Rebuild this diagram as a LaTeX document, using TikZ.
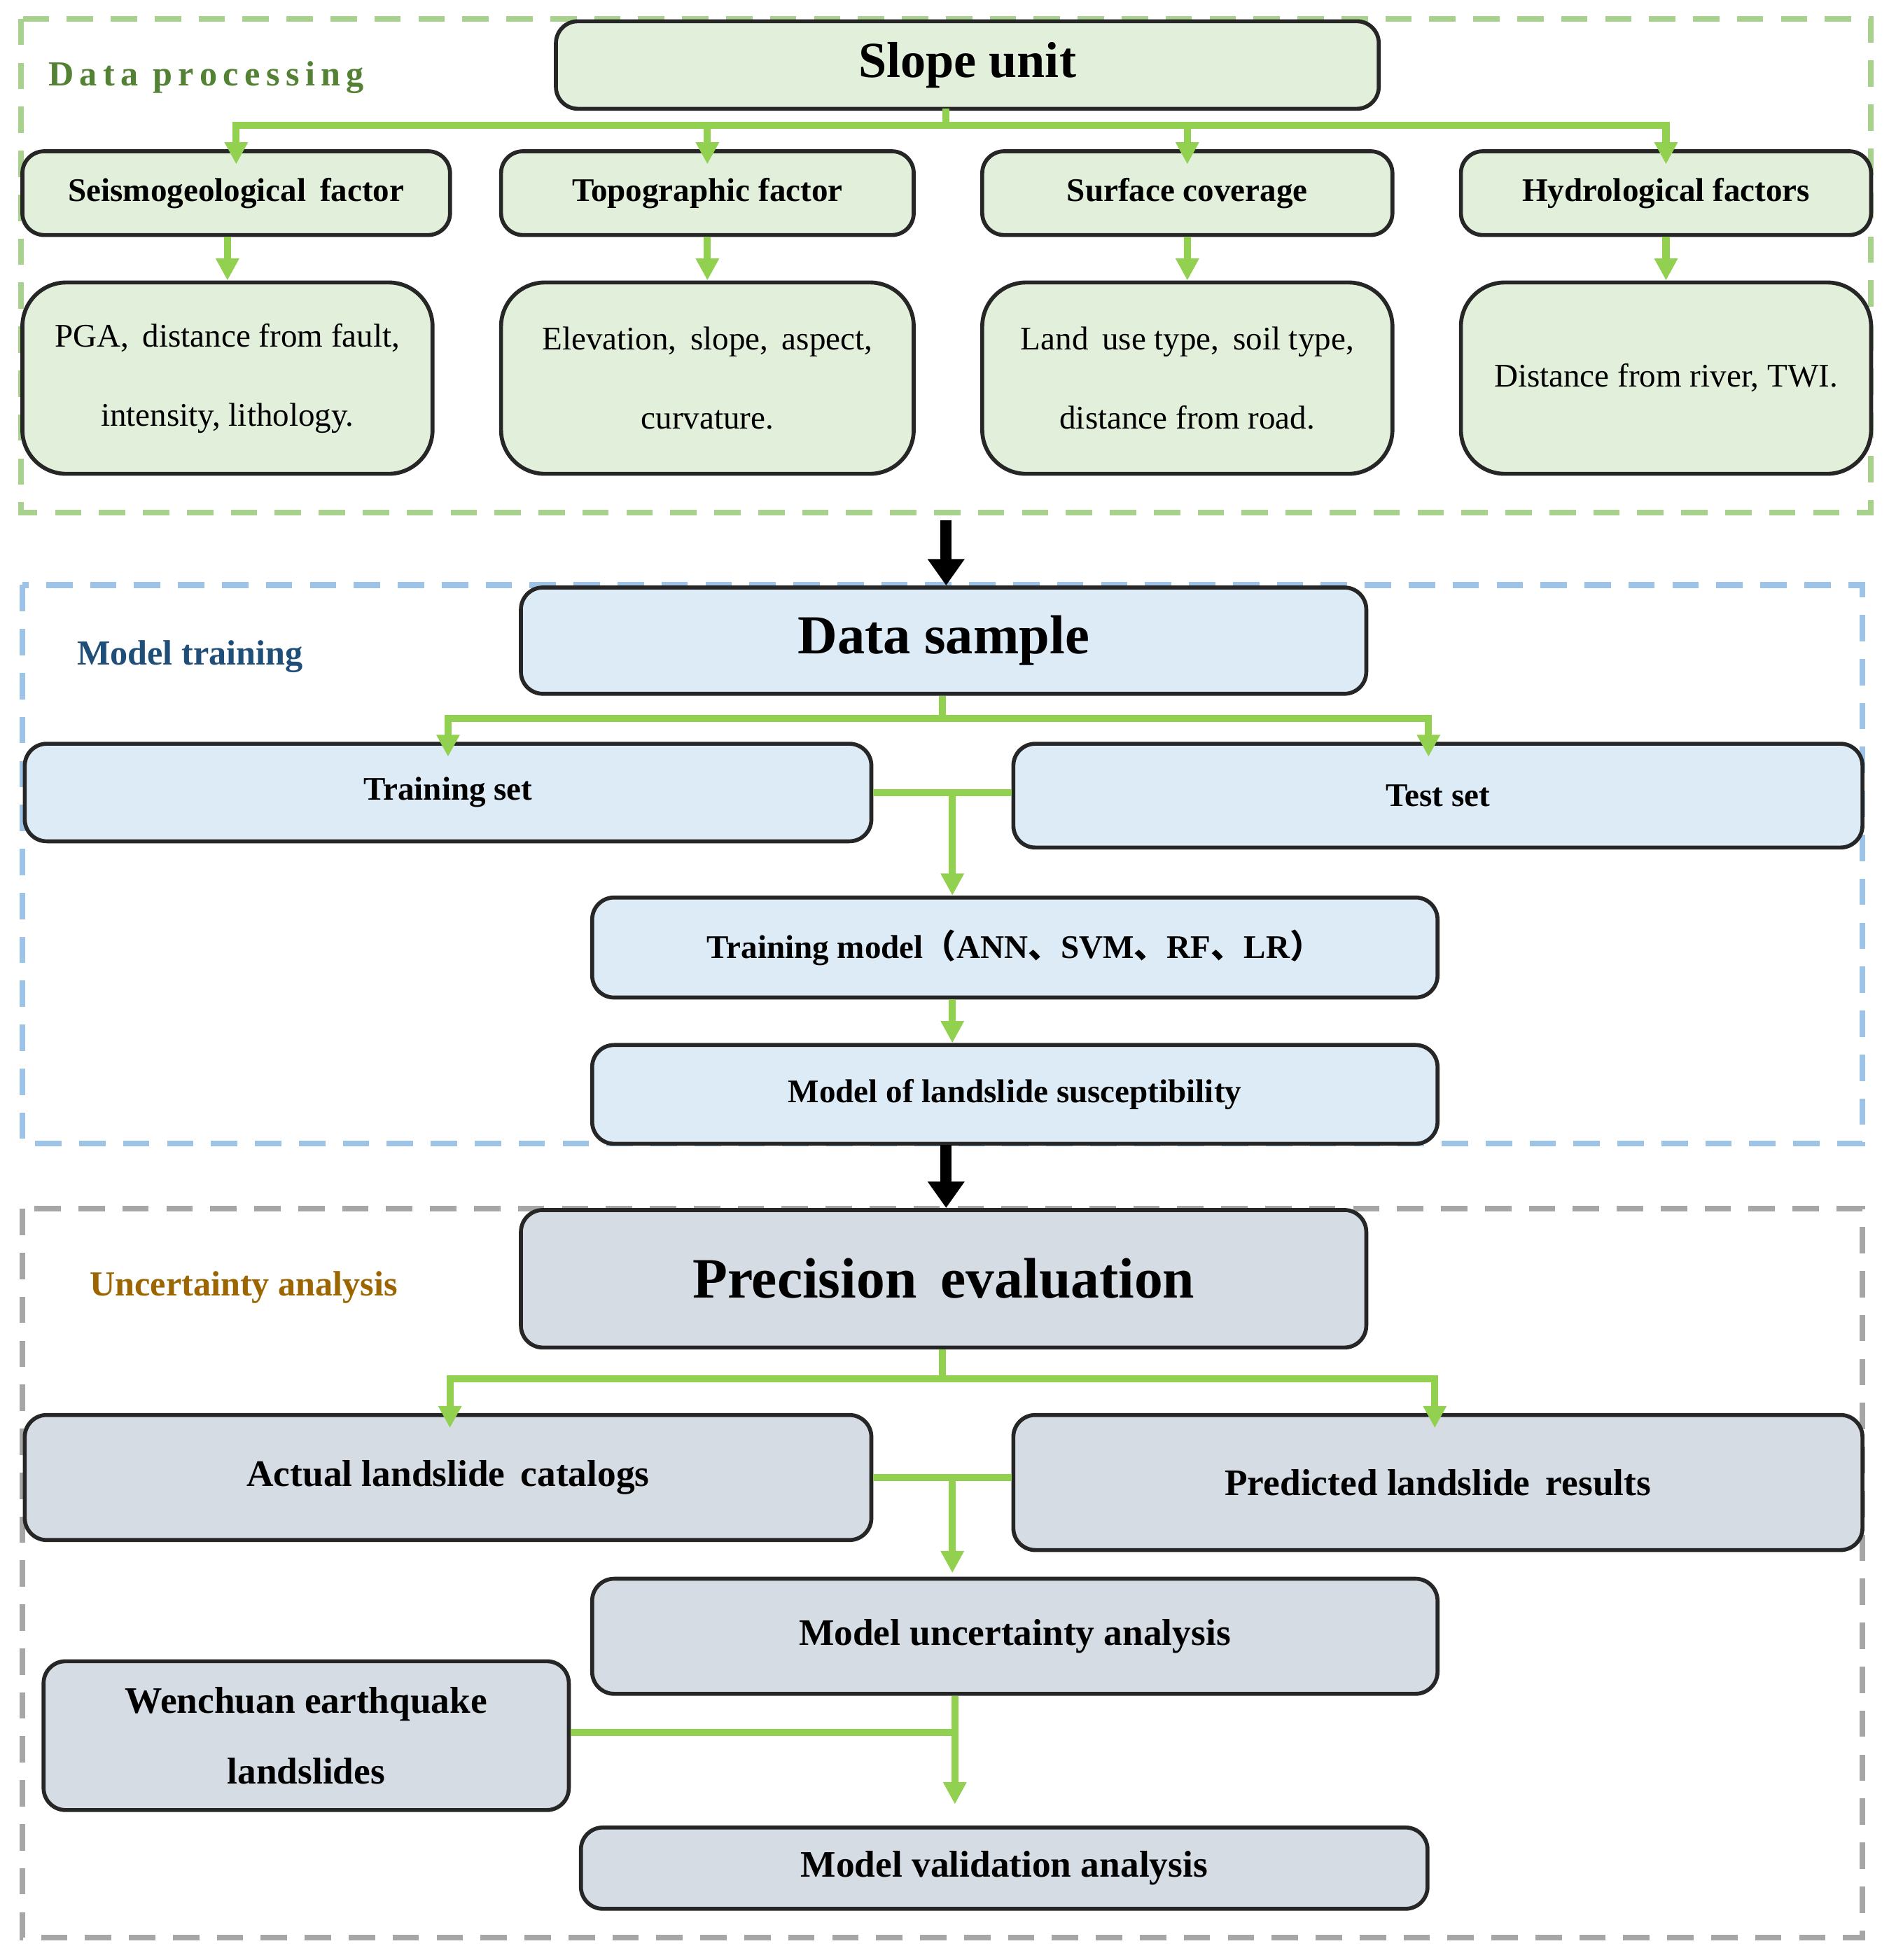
\documentclass[tikz,border=0pt]{standalone}
\usepackage{fontspec}
\setmainfont{Liberation Serif}
\newfontfamily\cjk{Noto Sans CJK SC}
\usetikzlibrary{arrows.meta}
\definecolor{gfill}{HTML}{E2EFDA}
\definecolor{bfill}{HTML}{DDEBF7}
\definecolor{kfill}{HTML}{D6DCE4}
\definecolor{garrow}{HTML}{92D050}
\definecolor{gframe}{HTML}{A9D18E}
\definecolor{bframe}{HTML}{9DC3E6}
\definecolor{kframe}{HTML}{A6A6A6}
\definecolor{glab}{HTML}{548235}
\definecolor{blab}{HTML}{1F4E79}
\definecolor{olab}{HTML}{9C6500}
\tikzset{
 box/.style={draw=black!85, line width=0.9pt, rounded corners=5pt, align=center, inner sep=1pt},
 gb/.style={box, fill=gfill, font=\bfseries\fontsize{7.5}{9}\selectfont},
 gd/.style={box, fill=gfill, rounded corners=10pt, font=\fontsize{7.5}{18}\selectfont},
 bb/.style={box, fill=bfill, font=\bfseries\fontsize{7.5}{9}\selectfont},
 kb/.style={box, fill=kfill, font=\bfseries\fontsize{8.5}{16}\selectfont},
 ga/.style={draw=garrow, line width=1.6pt, -{Triangle[length=5pt,width=5pt]}},
 gl/.style={draw=garrow, line width=1.6pt},
 ka/.style={draw=black, line width=2.5pt, -{Triangle[length=6pt,width=8pt]}},
 frame/.style={dashed, line width=1.3pt, dash pattern=on 6pt off 4pt},
 flab/.style={font=\bfseries\fontsize{8}{9}\selectfont},
}
\begin{document}
\begin{tikzpicture}[x=0.01cm,y=-0.01cm]
\useasboundingbox[fill=white] (0,0) rectangle (1517,1568);
% frames
\draw[frame, gframe] (17,15) rectangle (1497,410);
\draw[frame, bframe] (18,468) rectangle (1490,915);
\draw[frame, kframe] (18,967) rectangle (1490,1550);
\node[flab, text=glab] (l1) at (165,62) {D\,a\,t\,a\, p\,r\,o\,c\,e\,s\,s\,i\,n\,g};
\node[flab, text=blab] (l2) at (152,525) {Model training};
\node[flab, text=olab] (l3) at (195,1030) {Uncertainty analysis};
% data processing
\node[gb, minimum width=6.58cm, minimum height=0.70cm, font=\bfseries\fontsize{11.5}{13}\selectfont] (su) at (774,52) {Slope unit};
\node[gb, minimum width=3.42cm, minimum height=0.67cm] (f1) at (189,154.5) {Seismogeological\, factor};
\node[gb, minimum width=3.30cm, minimum height=0.67cm] (f2) at (566,154.5) {Topographic factor};
\node[gb, minimum width=3.28cm, minimum height=0.67cm] (f3) at (950,154.5) {Surface coverage};
\node[gb, minimum width=3.28cm, minimum height=0.67cm] (f4) at (1333,154.5) {Hydrological factors};
\node[gd, minimum width=3.28cm, minimum height=1.53cm] (d1) at (182,302.5) {PGA,\, distance from fault,\\ intensity, lithology.};
\node[gd, minimum width=3.30cm, minimum height=1.53cm] (d2) at (566,302.5) {Elevation,\, slope,\, aspect,\\ curvature.};
\node[gd, minimum width=3.28cm, minimum height=1.53cm] (d3) at (950,302.5) {Land\, use type,\, soil type,\\ distance from road.};
\node[gd, minimum width=3.28cm, minimum height=1.53cm] (d4) at (1333,302.5) {Distance from river, TWI.};
\coordinate (j1) at (757,100);
\draw[gl] (757,87) -- (j1);
\draw[ga] (j1) -| ([yshift=-0.12cm]f1.north);
\draw[ga] (j1) -| ([yshift=-0.12cm]f2.north);
\draw[ga] (j1) -| ([yshift=-0.12cm]f3.north);
\draw[ga] (j1) -| ([yshift=-0.12cm]f4.north);
\draw[ga] (f1.south -| d1) -- (d1.north);
\draw[ga] (f2.south) -- (d2.north);
\draw[ga] (f3.south) -- (d3.north);
\draw[ga] (f4.south) -- (d4.north);
% model training
\node[bb, minimum width=6.76cm, minimum height=0.85cm, font=\bfseries\fontsize{12.5}{14}\selectfont] (ds) at (755,512.5) {Data sample};
\draw[ka] (757,416) -- (ds.north -| 757,0);
\node[bb, minimum width=6.77cm, minimum height=0.78cm] (tr) at (358.5,634) {Training set};
\node[bb, minimum width=6.79cm, minimum height=0.83cm] (te) at (1150.5,636.5) {Test set};
\coordinate (j2) at (754,575);
\draw[gl] (ds.south -| j2) -- (j2);
\draw[ga] (j2) -| ([yshift=-0.12cm]tr.north);
\draw[ga] (j2) -| ([yshift=-0.12cm]te.north -| 1143,0);
\node[bb, minimum width=6.76cm, minimum height=0.80cm] (tm) at (812,758) {Training model{\cjk （}ANN{\cjk 、}SVM{\cjk 、}RF{\cjk 、}LR{\cjk ）}};
\node[bb, minimum width=6.76cm, minimum height=0.79cm] (ms) at (812,875.5) {Model of landslide susceptibility};
\coordinate (j3) at (762,636);
\draw[gl] (tr.east) -- (te.west |- tr.east);
\draw[ga] (j3) -- (tm.north -| j3);
\draw[ga] (tm.south -| j3) -- (ms.north -| j3);
% uncertainty
\node[kb, minimum width=6.76cm, minimum height=1.10cm, font=\bfseries\fontsize{13}{15}\selectfont] (pe) at (755,1023) {Precision\, evaluation};
\draw[ka] (757,916) -- (pe.north -| 757,0);
\node[kb, minimum width=6.77cm, minimum height=1.00cm] (ac) at (358.5,1182) {Actual landslide\, catalogs};
\node[kb, minimum width=6.79cm, minimum height=1.08cm] (pr) at (1150.5,1186) {Predicted landslide\, results};
\coordinate (j4) at (754,1103);
\draw[gl] (pe.south -| j4) -- (j4);
\draw[ga] (j4) -| ([yshift=-0.12cm]ac.north -| 360,0);
\draw[ga] (j4) -| ([yshift=-0.12cm]pr.north -| 1148,0);
\node[kb, minimum width=6.76cm, minimum height=0.92cm] (mu) at (812,1309) {Model uncertainty analysis};
\coordinate (j5) at (762,1182);
\draw[gl] (ac.east) -- (pr.west |- ac.east);
\draw[ga] (j5) -- ([yshift=0.03cm]mu.north -| j5);
\node[kb, minimum width=4.20cm, minimum height=1.19cm] (wl) at (245,1388.5) {Wenchuan earthquake\\ landslides};
\node[kb, minimum width=6.77cm, minimum height=0.65cm] (mv) at (803.5,1494.5) {Model validation analysis};
\coordinate (j6) at (764,1386);
\draw[gl] (wl.east |- j6) -- (j6);
\draw[ga] (mu.south -| j6) -- ([yshift=0.17cm]mv.north -| j6);
\end{tikzpicture}
\end{document}
